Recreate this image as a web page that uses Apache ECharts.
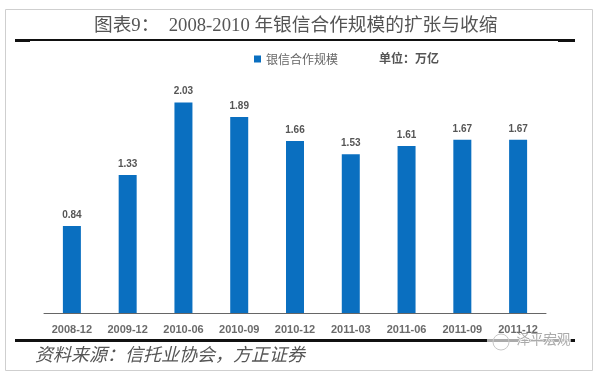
<!DOCTYPE html>
<html>
<head>
<meta charset="utf-8">
<style>html,body{margin:0;padding:0;background:#fff}#chart{width:598px;height:375px}</style>
<script src="https://cdn.jsdelivr.net/npm/echarts@6/dist/echarts.min.js"></script>
</head>
<body>
<div id="chart"></div>
<script>
const categories = ["2008-12","2009-12","2010-06","2010-09","2010-12","2011-03","2011-06","2011-09","2011-12"];
const values = [0.84,1.33,2.03,1.89,1.66,1.53,1.61,1.67,1.67];
const seriesName = "银信合作规模";

const chart = echarts.init(document.getElementById("chart"));
const cjk = '"Noto Sans CJK SC",sans-serif';

chart.setOption({
  animation: false,
  backgroundColor: "#fff",
  grid: { left: 44, right: 52, top: 60, bottom: 62 },
  legend: {
    data: [seriesName],
    left: 249, top: 48,
    itemWidth: 7, itemHeight: 7, itemGap: 3,
    icon: "rect",
    textStyle: { fontSize: 12, color: "#666", fontFamily: cjk }
  },
  xAxis: {
    type: "category",
    data: categories,
    axisTick: { show: false },
    axisLine: { lineStyle: { color: "#666", width: 1 } },
    axisLabel: { fontSize: 11, fontWeight: "bold", color: "#6b6b6b", margin: 11, interval: 0, fontFamily: "Liberation Sans" }
  },
  yAxis: { type: "value", min: 0, max: 2.44, show: false },
  series: [{
    name: seriesName,
    type: "bar",
    data: values,
    barWidth: 18,
    itemStyle: { color: "#0a6fc0" },
    label: {
      show: true, position: "top", distance: 6,
      fontSize: 10, fontWeight: "bold", color: "#555",
      fontFamily: "Liberation Sans",
      formatter: (p) => p.value.toFixed(2)
    }
  }],
  graphic: [
    { type: "rect", shape: { x: 5.5, y: 9.5, width: 587, height: 361 }, style: { fill: "none", stroke: "#cfcfcf", lineWidth: 1 } },
    { type: "rect", shape: { x: 15, y: 39, width: 560, height: 2 }, style: { fill: "#111" } },
    { type: "rect", shape: { x: 15, y: 39, width: 15, height: 3 }, style: { fill: "#111" } },
    { type: "rect", shape: { x: 558, y: 39, width: 17, height: 3 }, style: { fill: "#111" } },
    { type: "rect", shape: { x: 15, y: 339, width: 560, height: 3 }, style: { fill: "#111" } },
    { type: "text", left: 94, top: 17, style: { text: "图表9：  2008-2010 年银信合作规模的扩张与收缩", font: '18.7px "Liberation Serif",' + cjk, fill: "#555" } },
    { type: "text", left: 379, top: 52, style: { text: "单位：万亿", font: 'bold 12px ' + cjk, fill: "#555" } },
    { type: "text", left: 35, top: 345, style: { text: "资料来源：信托业协会，方正证券", font: 'italic 18px ' + cjk, fill: "#555" } },
    { type: "rect", shape: { x: 487, y: 335, width: 84, height: 13 }, style: { fill: "rgba(255,255,255,0.65)" } },
    { type: "circle", shape: { cx: 501, cy: 342, r: 8 }, style: { fill: "none", stroke: "#c8c8c8", lineWidth: 1 } },
    { type: "text", left: 516, top: 332, style: { text: "泽平宏观", font: '13.5px ' + cjk, fill: "#aaa", stroke: "#fff", lineWidth: 1 } }
  ]
});
</script>
</body>
</html>
